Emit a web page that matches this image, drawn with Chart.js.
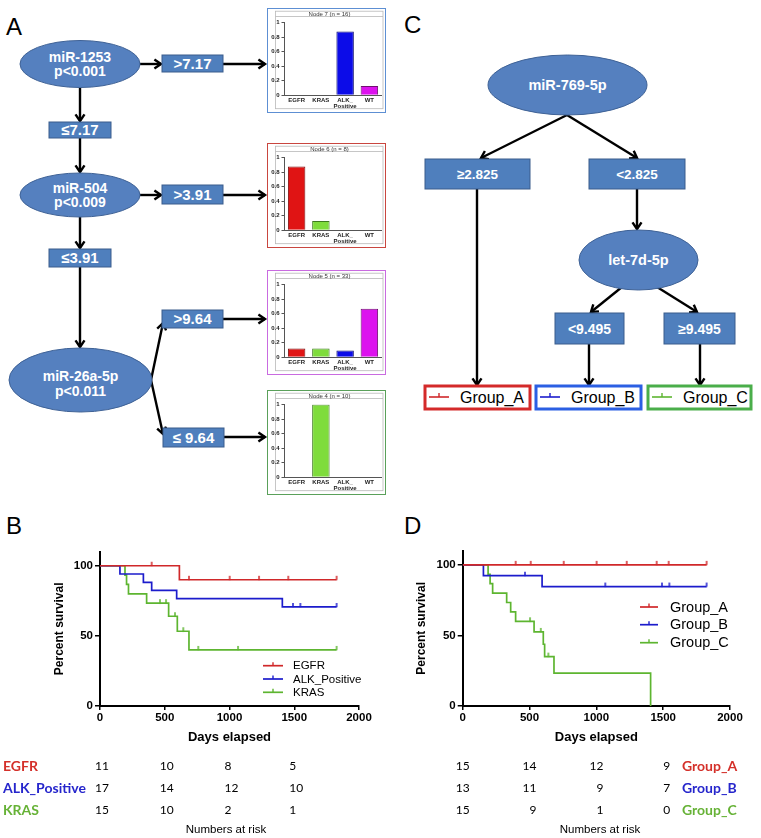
<!DOCTYPE html>
<html><head><meta charset="utf-8">
<script src="https://cdn.jsdelivr.net/npm/chart.js@4.4.1/dist/chart.umd.min.js"></script>
<style>
html,body{margin:0;padding:0;background:#fff}
body{width:761px;height:838px;position:relative;overflow:hidden;font-family:"Liberation Sans",Arial,sans-serif}
.abs{position:absolute}
.node{position:absolute;box-sizing:border-box;border:1.5px solid #888;background:#fff}
.node canvas{position:absolute;left:0;top:0}
</style></head>
<body>
<svg id="tree" class="abs" style="left:0;top:0" width="761" height="838"></svg>
<div class="node" id="n7" style="left:267px;top:8px;width:119px;height:105px;border-color:#5d8fd3"><canvas id="c7" width="116" height="102"></canvas></div>
<div class="node" id="n6" style="left:267px;top:143px;width:119px;height:105px;border-color:#c9463f"><canvas id="c6" width="116" height="102"></canvas></div>
<div class="node" id="n5" style="left:267px;top:270px;width:119px;height:105px;border-color:#c96be0"><canvas id="c5" width="116" height="102"></canvas></div>
<div class="node" id="n4" style="left:267px;top:390px;width:119px;height:105px;border-color:#5aa05a"><canvas id="c4" width="116" height="102"></canvas></div>
<canvas id="kmB" class="abs" style="left:0;top:540px" width="380" height="298"></canvas>
<canvas id="kmD" class="abs" style="left:380px;top:540px" width="381" height="298"></canvas>
<script>
// ---------------- DATA ----------------
const mutationCats = ['EGFR', 'KRAS', ['ALK_', 'Positive'], 'WT'];
const nodeTitles = ['Node 7 (n = 16)', 'Node 6 (n = 8)', 'Node 5 (n = 33)', 'Node 4 (n = 10)'];
const node7Values = [0, 0, 0.875, 0.125];
const node6Values = [0.875, 0.125, 0, 0];
const node5Values = [0.121, 0.121, 0.091, 0.667];
const node4Values = [0, 1, 0, 0];
const barTicks = [0, 0.2, 0.4, 0.6, 0.8, 1];

const treeANodes = [['miR-1253', 'p<0.001'], ['miR-504', 'p<0.009'], ['miR-26a-5p', 'p<0.011']];
const treeASplits = ['>7.17', '≤7.17', '>3.91', '≤3.91', '>9.64', '≤ 9.64'];
const treeCNodes = ['miR-769-5p', 'let-7d-5p'];
const treeCSplits = ['≥2.825', '<2.825', '<9.495', '≥9.495'];
const groupNames = ['Group_A', 'Group_B', 'Group_C'];

// Panel B (Kaplan-Meier by mutation)
const seriesB = ['EGFR', 'ALK_Positive', 'KRAS'];
const egfrDays = [0, 613, 1827];
const egfrSurv = [100, 90, 90];
const egfrCensorDays = [399, 687, 1001, 1228, 1454, 1827];
const egfrCensorSurv = [100, 90, 90, 90, 90, 90];
const alkDays = [0, 154, 335, 399, 592, 1408, 1827];
const alkSurv = [100, 94.1, 88.2, 82.4, 76.5, 70.6, 70.6];
const alkCensorDays = [1490, 1547, 1827];
const alkCensorSurv = [70.6, 70.6, 70.6];
const krasDays = [0, 193, 205, 220, 360, 530, 597, 687, 1827];
const krasSurv = [100, 93.3, 86.7, 80, 73.3, 64, 53.3, 40, 40];
const krasCensorDays = [463, 510, 579, 643, 759, 1066, 1827];
const krasCensorSurv = [73.3, 73.3, 64, 53.3, 40, 40, 40];

// Panel D (Kaplan-Meier by group)
const groupADays = [0, 1825];
const groupASurv = [100, 100];
const groupACensorDays = [396, 509, 756, 1002, 1227, 1451, 1541, 1825];
const groupACensorSurv = [100, 100, 100, 100, 100, 100, 100, 100];
const groupBDays = [0, 155, 594, 1825];
const groupBSurv = [100, 92.3, 84.6, 84.6];
const groupBCensorDays = [466, 1067, 1491, 1546, 1825];
const groupBCensorSurv = [92.3, 84.6, 84.6, 84.6, 84.6];
const groupCDays = [0, 190, 205, 224, 329, 359, 396, 534, 603, 613, 683, 1406];
const groupCSurv = [100, 93.3, 86.7, 80, 73.3, 66.7, 60, 52.5, 43.75, 35, 23.3, 0];
const groupCCensorDays = [504, 584, 641];
const groupCCensorSurv = [60, 52.5, 35];

const survTicks = [0, 50, 100];
const riskDays = [0, 500, 1000, 1500];
const egfrRisk = [11, 10, 8, 5];
const alkRisk = [17, 14, 12, 10];
const krasRisk = [15, 10, 2, 1];
const groupARisk = [15, 14, 12, 9];
const groupBRisk = [13, 11, 9, 7];
const groupCRisk = [15, 9, 1, 0];

// ---------------- STYLE ----------------
const F = '"Liberation Sans", Arial, sans-serif';
const RED = '#d0282a', BLUE = '#1c1ccc', GREEN = '#5db530';
const LBL_RED = '#d4302a', LBL_BLUE = '#2626cc', LBL_GREEN = '#66b236';

// ---------------- TREE (SVG) ----------------
const svg = document.getElementById('tree');
const NS = 'http://www.w3.org/2000/svg';
function el(tag, attrs, text) {
  const e = document.createElementNS(NS, tag);
  for (const k in attrs) e.setAttribute(k, attrs[k]);
  if (text !== undefined) e.textContent = text;
  svg.appendChild(e);
  return e;
}
function txt(x, y, s, size, opts) {
  opts = opts || {};
  return el('text', {x, y, 'font-size': size, 'font-family': F, 'font-weight': opts.weight || 'bold',
    fill: opts.fill || '#fff', 'text-anchor': opts.anchor || 'middle'}, s);
}
function ellipse(cx, cy, rx, ry, lines, size, base) {
  el('ellipse', {cx, cy, rx, ry, fill: '#5580bf', stroke: '#3f6296', 'stroke-width': 1});
  lines.forEach((l, i) => txt(cx, base[i], l, size));
}
function box(x, y, w, h, label, size) {
  el('rect', {x, y, width: w, height: h, fill: '#4f7fbd', stroke: '#3a5d8c', 'stroke-width': 1});
  txt(x + w / 2, y + h / 2 + size * 0.36, label, size);
}
function arrow(x1, y1, x2, y2) {
  const a = Math.atan2(y2 - y1, x2 - x1), L = 8, sp = 0.6;
  const p1 = [x2 - L * Math.cos(a - sp), y2 - L * Math.sin(a - sp)];
  const p2 = [x2 - L * Math.cos(a + sp), y2 - L * Math.sin(a + sp)];
  el('line', {x1, y1, x2, y2, stroke: '#000', 'stroke-width': 2.4});
  el('polyline', {points: `${p1[0]},${p1[1]} ${x2},${y2} ${p2[0]},${p2[1]}`, fill: 'none', stroke: '#000',
    'stroke-width': 2.4, 'stroke-linejoin': 'miter', 'stroke-linecap': 'butt'});
}
// panel letters
txt(6, 35, 'A', 24, {weight: 'normal', fill: '#000', anchor: 'start'});
txt(404, 33, 'C', 24, {weight: 'normal', fill: '#000', anchor: 'start'});
txt(6, 534, 'B', 24, {weight: 'normal', fill: '#000', anchor: 'start'});
txt(404, 534, 'D', 24, {weight: 'normal', fill: '#000', anchor: 'start'});

// Tree A arrows
arrow(140, 64, 161, 64); arrow(223, 64, 265, 64);
arrow(80, 87, 80, 121); arrow(80, 138, 80, 172);
arrow(140, 195, 161, 195); arrow(223, 195, 265, 195);
arrow(80, 217, 80, 248); arrow(80, 267, 80, 347);
arrow(151, 380, 163, 323); arrow(151, 380, 163, 434);
arrow(223, 319, 265, 319); arrow(224, 437, 265, 437);
// Tree A shapes
ellipse(80, 64, 60, 23.5, treeANodes[0], 14, [62, 76]);
ellipse(80, 195, 60, 22, treeANodes[1], 14, [193, 207]);
ellipse(80.5, 380, 71.5, 32, treeANodes[2], 14, [381, 396]);
box(162, 55, 61, 17, treeASplits[0], 15);
box(49, 122, 62, 16, treeASplits[1], 15);
box(162, 185, 61, 19, treeASplits[2], 15);
box(49, 249, 62, 18, treeASplits[3], 15);
box(162, 310, 61, 18, treeASplits[4], 15);
box(163, 428, 61, 19, treeASplits[5], 15);

// Tree C arrows
arrow(567, 115, 481, 158); arrow(567, 115, 637, 158);
arrow(637, 189, 637, 229);
arrow(622, 287, 591, 312); arrow(657, 287, 697, 312);
arrow(477, 189, 477, 385); arrow(589, 344, 589, 385); arrow(700, 344, 700, 385);
// Tree C shapes
ellipse(567.5, 85, 79.5, 30, [treeCNodes[0]], 14.5, [90]);
ellipse(638.5, 260, 59.5, 30, [treeCNodes[1]], 14.5, [265]);
box(425, 159, 105, 30, treeCSplits[0], 13.5);
box(589, 159, 96, 30, treeCSplits[1], 13.5);
box(555, 313, 69, 31, treeCSplits[2], 14);
box(664, 313, 71, 31, treeCSplits[3], 14);
// Group boxes
[[425, 105, RED, '#d42a2a'], [536, 105, BLUE, '#2b5fe3'], [648, 103, GREEN, '#4aae4a']].forEach((g, i) => {
  el('rect', {x: g[0], y: 386, width: g[1], height: 23, fill: '#fff', stroke: g[3], 'stroke-width': 3});
  el('line', {x1: g[0] + 4, y1: 397, x2: g[0] + 24, y2: 397, stroke: g[2], 'stroke-width': 1.6});
  el('line', {x1: g[0] + 14, y1: 397, x2: g[0] + 14, y2: 393, stroke: g[2], 'stroke-width': 1.4});
  txt(g[0] + 35, 403, groupNames[i], 16, {weight: 'normal', fill: '#000', anchor: 'start'});
});

// ---------------- MINI BAR CHARTS ----------------
const barFill = ['#e01414', '#7fdc3c', '#0c0ce8', '#dc12ee'];
const barEdge = ['#7a1010', '#3f7a20', '#101070', '#701070'];
function miniChart(id, title, values) {
  new Chart(document.getElementById(id), {
    type: 'bar',
    data: {labels: mutationCats, datasets: [{data: values, backgroundColor: barFill, borderColor: barEdge,
      borderWidth: 1, categoryPercentage: 0.72, barPercentage: 1}]},
    options: {
      responsive: false, animation: false, events: [],
      layout: {padding: {top: 13.5, right: 2.5, bottom: 0, left: 0}},
      plugins: {legend: {display: false}, tooltip: {enabled: false}},
      scales: {
        x: {grid: {display: false, drawTicks: false}, border: {display: true, color: '#555', width: 1},
          ticks: {font: {size: 6, weight: 'bold', family: F, lineHeight: 1.0}, color: '#222', padding: 2,
            maxRotation: 0, autoSkip: false},
          afterFit: s => { s.height = 15.8; }},
        y: {min: 0, max: 1,
          afterBuildTicks: s => { s.ticks = barTicks.map(v => ({value: v})); },
          ticks: {font: {size: 6, weight: 'bold', family: F}, color: '#222', padding: 2,
            callback: v => String(v)},
          grid: {drawOnChartArea: false, drawTicks: true, tickLength: 3, color: '#555'},
          border: {display: true, color: '#555', width: 1},
          afterFit: s => { s.width = 16.5; }}
      }
    },
    plugins: [{id: 'frame', beforeDraw(chart) {
      const c = chart.ctx;
      c.save();
      c.strokeStyle = '#b8b8b8'; c.lineWidth = 0.8;
      c.strokeRect(7.5, 2.2, 107.5, 97.5);
      c.beginPath(); c.moveTo(7.5, 7.5); c.lineTo(115, 7.5); c.stroke();
      c.fillStyle = '#333'; c.font = '6px ' + F; c.textAlign = 'center'; c.textBaseline = 'middle';
      c.fillText(title, 61.5, 5);
      c.restore();
    }}]
  });
}
miniChart('c7', nodeTitles[0], node7Values);
miniChart('c6', nodeTitles[1], node6Values);
miniChart('c5', nodeTitles[2], node5Values);
miniChart('c4', nodeTitles[3], node4Values);

// ---------------- KAPLAN-MEIER ----------------
function censorImg(color) {
  const c = document.createElement('canvas'); c.width = 4; c.height = 10;
  const g = c.getContext('2d'); g.strokeStyle = color; g.lineWidth = 1.5;
  g.beginPath(); g.moveTo(2, 1); g.lineTo(2, 5.2); g.stroke();
  return c;
}
const pts = (xs, ys) => xs.map((x, i) => ({x, y: ys[i]}));
function stepSet(days, surv, color) {
  return {data: pts(days, surv), stepped: true, borderColor: color, borderWidth: 1.7, pointRadius: 0, fill: false};
}
function censorSet(days, surv, color) {
  return {data: pts(days, surv), showLine: false, pointStyle: censorImg(color), pointRadius: 4, borderWidth: 0};
}
function kmChart(id, datasets, pad, yWidth, cfg) {
  new Chart(document.getElementById(id), {
    type: 'line',
    data: {datasets},
    options: {
      responsive: false, animation: false, events: [],
      layout: {padding: pad},
      plugins: {legend: {display: false}, tooltip: {enabled: false}},
      scales: {
        x: {type: 'linear', min: 0, max: 2000,
          ticks: {stepSize: 500, font: {size: 11.5, weight: 'bold', family: F}, color: '#000', padding: 1,
            maxRotation: 0, callback: v => String(v)},
          grid: {drawOnChartArea: false, drawTicks: true, tickLength: 4, color: '#000', lineWidth: 1.5},
          border: {display: true, color: '#000', width: 2},
          afterFit: s => { s.height = 20; }},
        y: {min: 0, max: 110,
          afterBuildTicks: s => { s.ticks = survTicks.map(v => ({value: v})); },
          ticks: {font: {size: 11.5, weight: 'bold', family: F}, color: '#000', padding: 2,
            callback: v => String(v)},
          grid: {drawOnChartArea: false, drawTicks: true, tickLength: 5, color: '#000', lineWidth: 1.5},
          border: {display: true, color: '#000', width: 2},
          afterFit: s => { s.width = yWidth; }}
      }
    },
    plugins: [{id: 'kmExtras', afterDraw(chart) {
      const c = chart.ctx, xs = chart.scales.x, ca = chart.chartArea;
      c.save();
      c.fillStyle = '#000';
      // axis titles
      c.save();
      c.font = 'bold 12px ' + F; c.textAlign = 'center'; c.textBaseline = 'middle';
      c.translate(cfg.yTitleX, (ca.top + ca.bottom) / 2); c.rotate(-Math.PI / 2);
      c.fillText('Percent survival', 0, 0);
      c.restore();
      c.font = 'bold 13px ' + F; c.textAlign = 'center'; c.textBaseline = 'middle';
      c.fillText('Days elapsed', (ca.left + ca.right) / 2, 197);
      // legend
      cfg.names.forEach((n, i) => {
        const y = cfg.legY[i];
        c.strokeStyle = cfg.colors[i]; c.lineWidth = 1.7;
        c.beginPath(); c.moveTo(cfg.legX, y); c.lineTo(cfg.legX + cfg.legW, y); c.stroke();
        c.lineWidth = 1.4;
        c.beginPath(); c.moveTo(cfg.legX + cfg.legW / 2, y); c.lineTo(cfg.legX + cfg.legW / 2, y - 3.5); c.stroke();
        c.fillStyle = '#000'; c.font = cfg.legFont + 'px ' + F; c.textAlign = 'left'; c.textBaseline = 'middle';
        c.fillText(n, cfg.legX + cfg.legW + cfg.legGap, y + 0.5);
      });
      // numbers at risk
      const rowY = [226, 248, 270];
      cfg.risk.forEach((row, i) => {
        c.fillStyle = '#000'; c.font = '12px Lato, ' + F; c.textBaseline = 'middle';
        row.forEach((v, j) => {
          const px = xs.getPixelForValue(riskDays[j]);
          if (cfg.alignRight) { c.textAlign = 'right'; c.fillText(String(v), px + 7, rowY[i]); }
          else { c.textAlign = 'left'; c.fillText(String(v), px - 5, rowY[i]); }
        });
        c.fillStyle = cfg.labelColors[i]; c.font = 'bold 14px Lato, ' + F; c.textAlign = 'left';
        c.fillText(cfg.names[i], cfg.labelX, rowY[i]);
      });
      c.fillStyle = '#000'; c.font = '11.5px ' + F; c.textAlign = 'center'; c.textBaseline = 'middle';
      c.fillText('Numbers at risk', cfg.narX, 290);
      c.restore();
    }}]
  });
}

kmChart('kmB', [
  stepSet(egfrDays, egfrSurv, RED), stepSet(alkDays, alkSurv, BLUE), stepSet(krasDays, krasSurv, GREEN),
  censorSet(egfrCensorDays, egfrCensorSurv, RED), censorSet(alkCensorDays, alkCensorSurv, BLUE),
  censorSet(krasCensorDays, krasCensorSurv, GREEN)
], {top: 11.7, right: 21, bottom: 112, left: 0}, 100, {
  yTitleX: 60, names: seriesB, colors: [RED, BLUE, GREEN], legX: 263, legW: 20, legGap: 10, legFont: 11.5,
  legY: [125.7, 139, 152.3], risk: [egfrRisk, alkRisk, krasRisk], labelColors: [LBL_RED, LBL_BLUE, LBL_GREEN],
  labelX: 3, alignRight: false, narX: 226
});

kmChart('kmD', [
  stepSet(groupADays, groupASurv, RED), stepSet(groupBDays, groupBSurv, BLUE), stepSet(groupCDays, groupCSurv, GREEN),
  censorSet(groupACensorDays, groupACensorSurv, RED), censorSet(groupBCensorDays, groupBCensorSurv, BLUE),
  censorSet(groupCCensorDays, groupCCensorSurv, GREEN)
], {top: 10.7, right: 31, bottom: 112, left: 0}, 82.7, {
  yTitleX: 42, names: groupNames, colors: [RED, BLUE, GREEN], legX: 260, legW: 18, legGap: 12, legFont: 14.5,
  legY: [67, 84.7, 102.7], risk: [groupARisk, groupBRisk, groupCRisk], labelColors: [LBL_RED, LBL_BLUE, LBL_GREEN],
  labelX: 302, alignRight: true, narX: 220
});
</script>
</body></html>
